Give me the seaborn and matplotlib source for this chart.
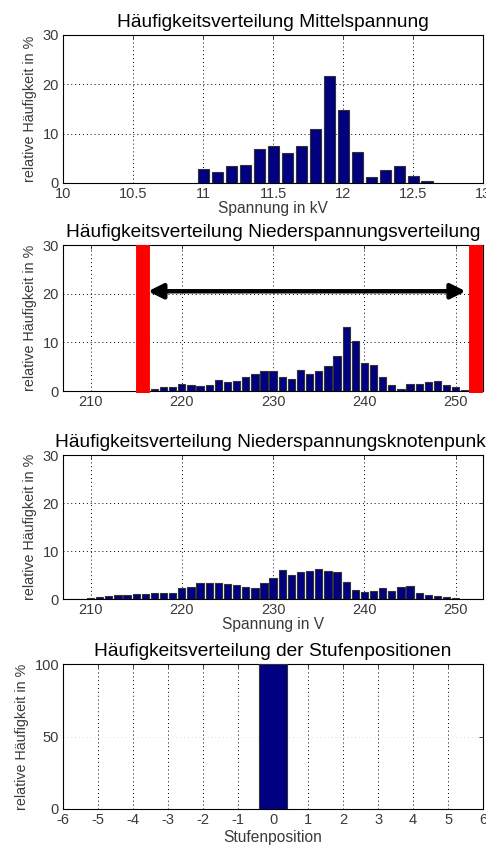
import numpy as np
import pandas as pd
import matplotlib
matplotlib.use("Agg")
import matplotlib.pyplot as plt
import seaborn as sns

# -------------------------------------------------
# data
# -------------------------------------------------
mv_kv = [11.0, 11.1, 11.2, 11.3, 11.4, 11.5, 11.6, 11.7, 11.8, 11.9,
         12.0, 12.1, 12.2, 12.3, 12.4, 12.5, 12.6]
mv_pct = [2.8, 2.2, 3.5, 3.7, 6.8, 7.5, 6.1, 7.5, 10.9, 21.6,
          14.8, 6.3, 1.2, 2.6, 3.5, 1.5, 0.3]

nsv_v = list(range(217, 252))
nsv_pct = [0.5, 0.75, 0.75, 1.4, 1.2, 1.0, 1.3, 2.2, 1.8, 2.0,
           2.9, 3.4, 4.1, 4.1, 2.9, 2.4, 4.3, 3.5, 4.1, 5.1,
           7.3, 13.2, 10.3, 5.8, 5.4, 2.9, 1.2, 0.5, 1.4, 1.4,
           1.8, 2.0, 1.2, 0.75, 0.3]

nsk_v = list(range(208, 253))
nsk_pct = [0.1, 0.1, 0.15, 0.4, 0.7, 0.85, 0.85, 1.05, 1.05, 1.25,
           1.25, 1.25, 2.35, 2.55, 3.4, 3.4, 3.4, 3.2, 3.0, 2.55,
           2.35, 3.4, 4.3, 6.0, 5.1, 5.75, 5.95, 6.25, 5.95, 5.55,
           3.6, 1.85, 1.45, 1.65, 2.35, 1.65, 2.55, 2.75, 1.25, 0.85,
           0.6, 0.4, 0.15, 0.1, 0.1]

stufe_pos = [0]
stufe_pct = [100]

band_limits = [215.7, 252.2]   # red limit markers
arrow_y = 20.5

titles = ["Häufigkeitsverteilung Mittelspannung",
          "Häufigkeitsverteilung Niederspannungsverteilung",
          "Häufigkeitsverteilung Niederspannungsknotenpunkt",
          "Häufigkeitsverteilung der Stufenpositionen"]
ylabel = "relative Häufigkeit in %"

# -------------------------------------------------
# style
# -------------------------------------------------
sns.set_style("white")
plt.rcParams["font.family"] = ["Liberation Sans", "DejaVu Sans"]
plt.rcParams["axes.linewidth"] = 0.8
plt.rcParams["axes.unicode_minus"] = False

bar_color = "#000080"
tick_gray = "#3a3a3a"

fig = plt.figure(figsize=(4.86, 8.51), dpi=100)
L, W = 0.130, 0.864
ax1 = fig.add_axes([L, 0.785, W, 0.174])
ax2 = fig.add_axes([L, 0.5405, W, 0.1716])
ax3 = fig.add_axes([L, 0.296, W, 0.169])
ax4 = fig.add_axes([L, 0.0494, W, 0.170])


def draw(ax, x, y):
    df = pd.DataFrame({"x": x, "y": y})
    sns.barplot(data=df, x="x", y="y", ax=ax, native_scale=True,
                width=0.8, color=bar_color, saturation=1,
                edgecolor="#333333", linewidth=0.8, zorder=3)


def style(ax, title, xlabel=None):
    ax.set_title(title, fontsize=13.8, pad=6, color="black")
    ax.set_ylabel(ylabel, fontsize=10.3, color=tick_gray, labelpad=4)
    ax.set_xlabel(xlabel if xlabel else "", fontsize=11.2,
                  color=tick_gray, labelpad=0)
    ax.tick_params(direction="in", length=3, width=0.6, top=True,
                   right=True, labelsize=10.5, labelcolor=tick_gray,
                   pad=3)
    for s in ax.spines.values():
        s.set_visible(True)
        s.set_color("black")
    ax.grid(True, linestyle=(0, (1, 3)), color="black", linewidth=0.7)
    ax.set_axisbelow(True)


draw(ax1, mv_kv, mv_pct)
ax1.set_xlim(10, 13)
ax1.set_ylim(0, 30)
ax1.set_xticks([10, 10.5, 11, 11.5, 12, 12.5, 13])
ax1.set_xticklabels(["10", "10.5", "11", "11.5", "12", "12.5", "13"])
ax1.set_yticks([0, 10, 20, 30])
style(ax1, titles[0], "Spannung in kV")

draw(ax2, nsv_v, nsv_pct)
ax2.set_xlim(207, 253)
ax2.set_ylim(0, 30)
ax2.set_xticks([210, 220, 230, 240, 250])
ax2.set_yticks([0, 10, 20, 30])
style(ax2, titles[1])
for xl in band_limits:
    ax2.plot([xl, xl], [-0.4, 30], color="red", linewidth=10,
             solid_capstyle="butt", zorder=5, clip_on=False)
ax2.annotate("", xy=(216.3, arrow_y), xytext=(251.1, arrow_y),
             arrowprops=dict(arrowstyle="<|-|>", color="black", lw=3.2,
                             mutation_scale=22, shrinkA=0, shrinkB=0),
             zorder=6)

draw(ax3, nsk_v, nsk_pct)
ax3.set_xlim(207, 253)
ax3.set_ylim(0, 30)
ax3.set_xticks([210, 220, 230, 240, 250])
ax3.set_yticks([0, 10, 20, 30])
style(ax3, titles[2], "Spannung in V")

draw(ax4, stufe_pos, stufe_pct)
ax4.set_xlim(-6, 6)
ax4.set_ylim(0, 100)
ax4.set_xticks(range(-6, 7))
ax4.set_yticks([0, 50, 100])
style(ax4, titles[3], "Stufenposition")
ax4.xaxis.labelpad = 2
ax4.yaxis.grid(True, linestyle=(0, (1, 3)), color="#dddddd", linewidth=0.7)

fig.savefig("out.png", dpi=100)
